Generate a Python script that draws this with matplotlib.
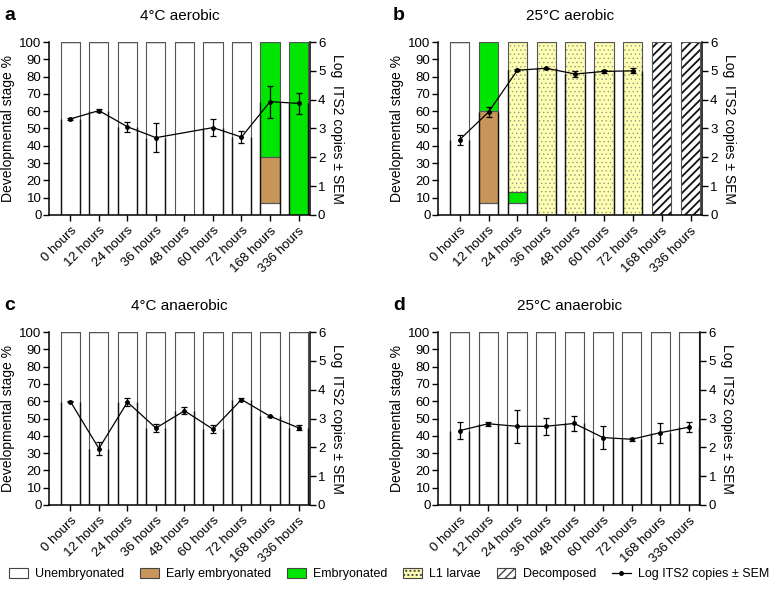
import matplotlib
matplotlib.use("Agg")
import matplotlib.pyplot as plt
from matplotlib.patches import Patch
from matplotlib.lines import Line2D
import numpy as np

plt.rcParams['font.family'] = ['Liberation Sans', 'DejaVu Sans']

hours = ['0 hours', '12 hours', '24 hours', '36 hours', '48 hours',
         '60 hours', '72 hours', '168 hours', '336 hours']

stages = ['Unembryonated', 'Early embryonated', 'Embryonated', 'L1 larvae', 'Decomposed']
stage_face = ['white', '#C8965A', '#00E600', '#FFFFB4', 'white']
stage_hatch = [None, None, None, '....', '////']
stage_hatchcol = ['#444444', '#444444', '#444444', '#9a9a80', '#111111']
stage_hatchlw = [1.0, 1.0, 1.0, 0.5, 1.3]

# percentages per stage (rows follow `stages`)
a_stage = [[100, 100, 100, 100, 100, 100, 100, 6.7, 0],
           [0, 0, 0, 0, 0, 0, 0, 26.6, 0],
           [0, 0, 0, 0, 0, 0, 0, 66.7, 100],
           [0, 0, 0, 0, 0, 0, 0, 0, 0],
           [0, 0, 0, 0, 0, 0, 0, 0, 0]]
b_stage = [[100, 6.7, 6.7, 0, 0, 0, 0, 0, 0],
           [0, 53.3, 0, 0, 0, 0, 0, 0, 0],
           [0, 40, 6.6, 0, 0, 0, 0, 0, 0],
           [0, 0, 86.7, 100, 100, 100, 100, 0, 0],
           [0, 0, 0, 0, 0, 0, 0, 100, 100]]
c_stage = [[100] * 9, [0] * 9, [0] * 9, [0] * 9, [0] * 9]
d_stage = [[100] * 9, [0] * 9, [0] * 9, [0] * 9, [0] * 9]

# log ITS2 copies and SEM (nan = not measured)
a_log = [3.33, 3.62, 3.06, 2.68, np.nan, 3.03, 2.70, 3.93, 3.87]
a_sem = [0.02, 0.05, 0.18, 0.50, np.nan, 0.30, 0.21, 0.55, 0.36]
b_log = [2.61, 3.57, 5.02, 5.09, 4.89, 4.98, 5.00, np.nan, np.nan]
b_sem = [0.18, 0.17, 0.04, 0.02, 0.09, 0.05, 0.09, np.nan, np.nan]
c_log = [3.59, 1.96, 3.57, 2.67, 3.27, 2.63, 3.66, 3.08, 2.68]
c_sem = [0.03, 0.22, 0.15, 0.15, 0.12, 0.14, 0.05, 0.02, 0.09]
d_log = [2.58, 2.82, 2.73, 2.73, 2.83, 2.34, 2.28, 2.51, 2.70]
d_sem = [0.30, 0.07, 0.58, 0.29, 0.26, 0.39, 0.06, 0.35, 0.18]

panels = [
    ('a', '4°C aerobic', a_stage, a_log, a_sem, [0.063, 0.637, 0.335, 0.292]),
    ('b', '25°C aerobic', b_stage, b_log, b_sem, [0.563, 0.637, 0.339, 0.292]),
    ('c', '4°C anaerobic', c_stage, c_log, c_sem, [0.063, 0.147, 0.335, 0.292]),
    ('d', '25°C anaerobic', d_stage, d_log, d_sem, [0.563, 0.147, 0.337, 0.292]),
]

fig = plt.figure(figsize=(7.78, 5.92), dpi=100)
x = np.arange(len(hours))
w = 0.67

for letter, title, stage, logv, sem, rect in panels:
    ax = fig.add_axes(rect)
    bottom = np.zeros(len(hours))
    for k in range(len(stages)):
        vals = np.array(stage[k], dtype=float)
        with plt.rc_context({'hatch.linewidth': stage_hatchlw[k],
                             'hatch.color': stage_hatchcol[k]}):
            ax.bar(x, vals, w, bottom=bottom, color=stage_face[k],
                   edgecolor=stage_hatchcol[k], hatch=stage_hatch[k],
                   linewidth=0.0, zorder=2)
        ax.bar(x, vals, w, bottom=bottom, fill=False, edgecolor='#555555',
               linewidth=0.8, zorder=2.5)
        bottom += vals
    ax.set_xlim(-0.75, 8.39)
    ax.set_ylim(0, 100)
    ax.set_yticks(range(0, 101, 10))
    ax.set_xticks(x)
    ax.set_xticklabels(hours, rotation=45, ha='right', rotation_mode='anchor', fontsize=9.5)
    ax.tick_params(axis='y', labelsize=9.5, length=4, width=1, pad=1.5)
    ax.tick_params(axis='x', length=4, width=1, pad=3)
    ax.spines['top'].set_visible(False)
    ax.spines['right'].set_visible(False)
    for s in ['left', 'bottom']:
        ax.spines[s].set_linewidth(1.1)
    ax.set_ylabel('Developmental stage %', fontsize=10, labelpad=3)

    ax2 = ax.twinx()
    ax2.set_ylim(0, 6)
    ax2.set_yticks(range(0, 7))
    ax2.tick_params(axis='y', labelsize=9.5, length=4, width=1, pad=2)
    ax2.spines['top'].set_visible(False)
    ax2.spines['left'].set_visible(False)
    ax2.spines['bottom'].set_visible(False)
    ax2.spines['right'].set_linewidth(1.1)
    ax2.set_ylabel('Log  ITS2 copies ± SEM', fontsize=10, rotation=270, labelpad=13)

    lv = np.array(logv)
    sv = np.array(sem)
    ok = ~np.isnan(lv)
    # darker bar edges below the line level
    ax2.vlines(np.concatenate([x[ok] - w / 2, x[ok] + w / 2]), 0,
               np.concatenate([lv[ok], lv[ok]]), color='#111111', linewidth=1.0, zorder=3)
    ax2.errorbar(x[ok], lv[ok], yerr=sv[ok], color='black', marker='o', markersize=2.5,
                 linewidth=0.9, elinewidth=0.9, capsize=2.5, capthick=0.9, zorder=4)

    ax.set_title(title, fontsize=11, pad=16)
    ax.text(-0.17, 1.155, letter, transform=ax.transAxes, fontsize=14,
            fontweight='bold', va='center', ha='left')

handles = []
for k in range(len(stages)):
    with plt.rc_context({'hatch.linewidth': stage_hatchlw[k] * 0.8,
                         'hatch.color': stage_hatchcol[k]}):
        handles.append(Patch(facecolor=stage_face[k], edgecolor='#444444',
                             hatch=stage_hatch[k], linewidth=0.8))
handles.append(Line2D([0], [0], color='black', marker='o', markersize=2.5, linewidth=0.9))
labels = stages + ['Log ITS2 copies ± SEM']
fig.legend(handles, labels, loc='center', bbox_to_anchor=(0.5, 0.03), ncol=6,
           frameon=False, fontsize=9, handlelength=1.5, handleheight=0.8,
           handletextpad=0.6, columnspacing=1.25)

fig.savefig('out.png', dpi=100)
